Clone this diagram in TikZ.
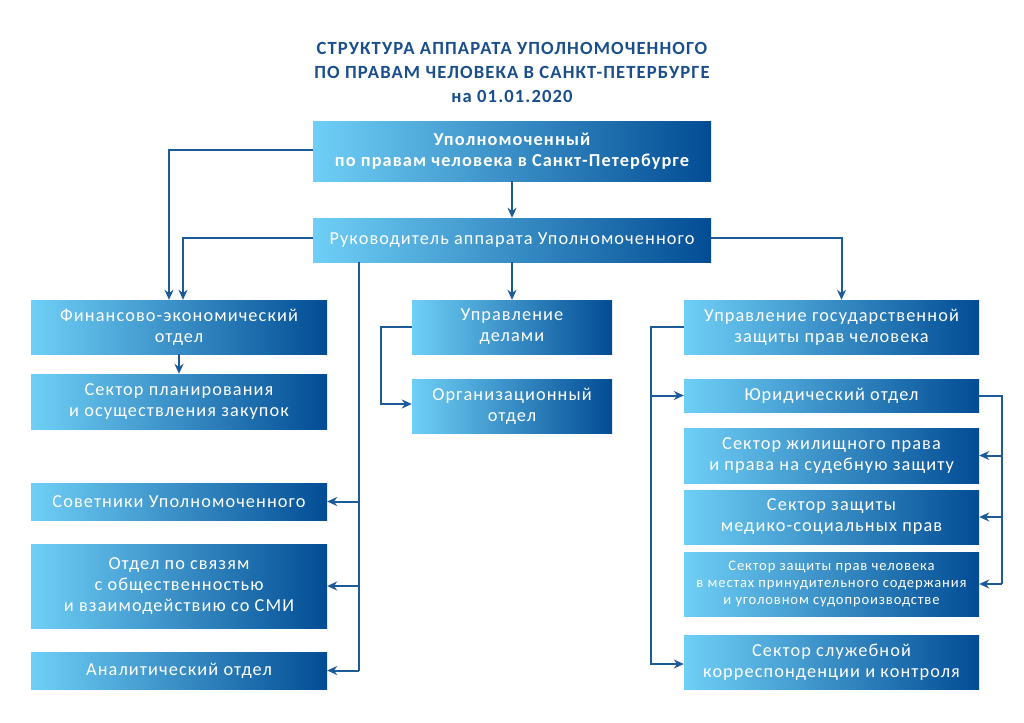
\documentclass[tikz,border=0pt]{standalone}
\usepackage{fontspec}
\setmainfont{Carlito}[LetterSpace=6]
\usepackage{xcolor}
\usepackage{tikz}
\usetikzlibrary{calc,arrows.meta}
\definecolor{bg}{HTML}{FFFFFF}
\definecolor{boxlight}{HTML}{6FCFF6}
\definecolor{boxdark}{HTML}{024C94}
\definecolor{wire}{HTML}{1D5A98}
\definecolor{head}{HTML}{1B4E8D}
\tikzset{
  box/.style={rectangle, left color=boxlight, right color=boxdark, draw=none,
    text=white, align=center, inner sep=0pt, font=\fontsize{18.3}{21}\selectfont},
  wide/.style={box, minimum width=296pt, minimum height=54pt},
  mid/.style={box, minimum width=200pt, minimum height=54pt},
  line/.style={draw=wire, line width=2pt},
  arr/.style={line, -{Stealth[length=10pt,width=9pt]}},
  titl/.style={text=head, align=center, font=\bfseries\fontsize{18.6}{24}\selectfont},
}
\begin{document}
\begin{tikzpicture}[x=1pt,y=-1pt]
  \useasboundingbox[fill=bg] (0,0) rectangle (1024,722);
  \coordinate (busL) at (359,0);
  \coordinate (busR) at (651,0);
  \coordinate (busE) at (1002,0);

  \node[titl] (title) at (512,72) {СТРУКТУРА АППАРАТА УПОЛНОМОЧЕННОГО\\ПО ПРАВАМ ЧЕЛОВЕКА В САНКТ-ПЕТЕРБУРГЕ\\на 01.01.2020};

  \node[box, minimum width=398pt, minimum height=59pt, font=\bfseries\fontsize{18.3}{21}\selectfont] (ombud) at (512,151.5) {Уполномоченный\\по правам человека в Санкт-Петербурге};
  \node[box, minimum width=398pt, minimum height=44pt] (chief) at (512,240) {Руководитель аппарата Уполномоченного};

  \node[wide] (fin) at (179,327) {Финансово-экономический\\отдел};
  \node[wide, minimum height=55pt] (zak) at (179,401.5) {Сектор планирования\\и осуществления закупок};
  \node[wide, minimum height=37pt] (sov) at (179,501.5) {Советники Уполномоченного};
  \node[wide, minimum height=84pt] (smi) at (179,586) {Отдел по связям\\с общественностью\\и взаимодействию со СМИ};
  \node[wide, minimum height=37pt] (anal) at (179,670.5) {Аналитический отдел};

  \node[mid] (del) at (512,327) {Управление\\делами};
  \node[mid] (org) at (512,406) {Организационный\\отдел};

  \node[wide, minimum width=295pt] (gos) at (831.5,327) {Управление государственной\\защиты прав человека};
  \node[wide, minimum width=295pt, minimum height=33pt] (jur) at (831.5,395.5) {Юридический отдел};
  \node[wide, minimum width=295pt, minimum height=55pt] (zhil) at (831.5,455.5) {Сектор жилищного права\\и права на судебную защиту};
  \node[wide, minimum width=295pt] (med) at (831.5,517) {Сектор защиты\\медико-социальных прав};
  \node[wide, minimum width=295pt, minimum height=64pt, font=\fontsize{14.6}{17}\selectfont] (mest) at (831.5,584) {Сектор защиты прав человека\\в местах принудительного содержания\\и уголовном судопроизводстве};
  \node[wide, minimum width=295pt] (sluzh) at (831.5,662) {Сектор служебной\\корреспонденции и контроля};

  \draw[arr] (ombud.south) -- (chief.north);
  \draw[arr] (chief.south) -- (del.north);
  \draw[arr] ([yshift=1pt]ombud.west) -| ([xshift=-10pt]fin.north);
  \draw[arr] ([yshift=2pt]chief.west) -| ([xshift=4pt]fin.north);
  \draw[arr] ([yshift=2pt]chief.east) -| ([xshift=10pt]gos.north);
  \draw[arr] (fin.south) -- (zak.north);

  \draw[line] (chief.south -| busL) -- (busL |- anal.east);
  \foreach \n in {sov,smi,anal}
    \draw[arr] (busL |- \n.east) -- (\n.east);

  \draw[arr] (del.west) -- ++(-31,0) |- ([yshift=2pt]org.west);

  \draw[arr] (gos.west) -- (gos.west -| busR) |- ([yshift=-2pt]sluzh.west);
  \draw[arr] (busR |- jur.west) -- (jur.west);
  \draw[line] (jur.east) -| (busE |- mest.east);
  \foreach \n in {zhil,med,mest}
    \draw[arr] (busE |- \n.east) -- (\n.east);
\end{tikzpicture}
\end{document}
